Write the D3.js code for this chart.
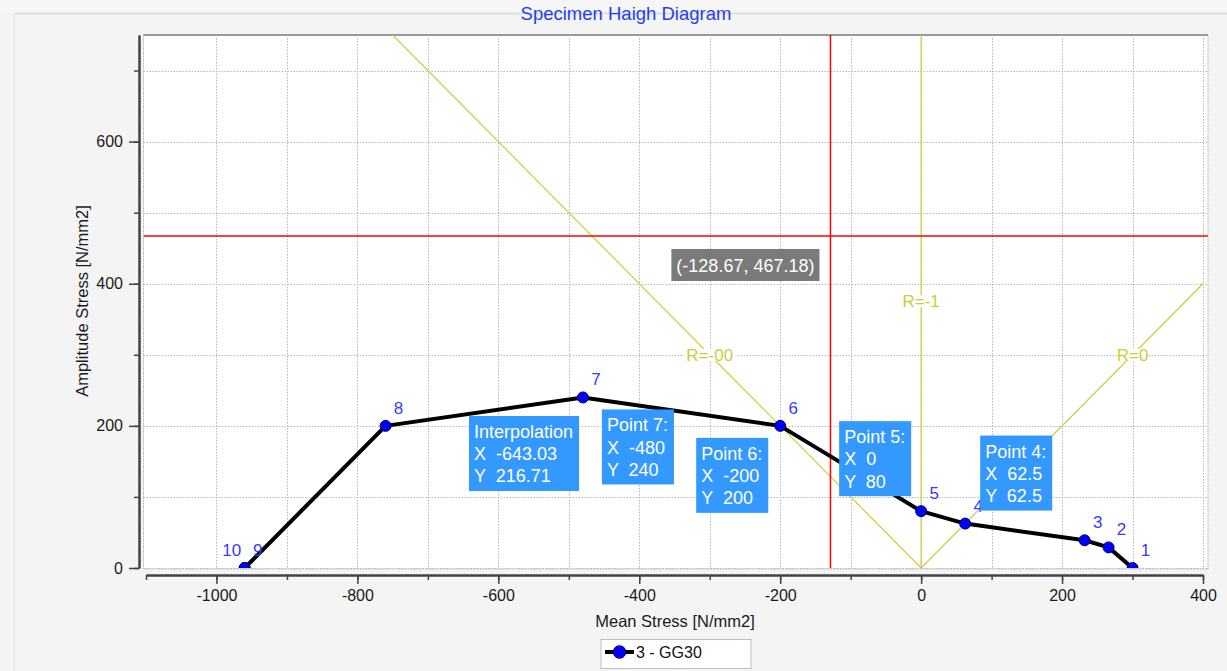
<!DOCTYPE html>
<html>
<head>
<meta charset="utf-8">
<script src="https://cdn.jsdelivr.net/npm/d3@7"></script>
<style>
    body { margin: 0; background: #f4f4f4; }
    text { font-family: "Liberation Sans", Arial, sans-serif; }
</style>
</head>
<body>
<div id="chart"></div>
<script>
// haigh diagram data
const pointIds = [1, 2, 3, 4, 5, 6, 7, 8, 9, 10];
const meanStress = [300, 266, 232, 62.5, 0, -200, -480, -760, -960, -960];
const ampStress = [0, 29, 39, 62.5, 80, 200, 240, 200, 0, 0];
const seriesName = "3 - GG30";

const xTickValues = [-1000, -800, -600, -400, -200, 0, 200, 400];
const yTickValues = [0, 200, 400, 600];

// stress ratio lines, all start at the origin
const rLabels = ["R=-1", "R=0", "R=-00"];
const rEndMean = [0, 400, -750];
const rEndAmp = [750, 400, 750];
const rLabelMean = [0, 300, -300];
const rLabelAmp = [375, 300, 300];

// point annotations
const noteTitles = ["Interpolation", "Point 7:", "Point 6:", "Point 5:", "Point 4:"];
const noteMean = [-643.03, -480, -200, 0, 62.5];
const noteAmp = [216.71, 240, 200, 80, 62.5];

const cursorMean = -128.67, cursorAmp = 467.18;

// layout
const W = 1227, H = 671;
const plot = { left: 146, right: 1203, top: 35, bottom: 568 };
const noteOffset = [[1, 2], [19, 12], [-84, 12], [-82, -90], [15, -88]];

const x = d3.scaleLinear().domain([-1100, 400]).range([plot.left, plot.right]);
const y = d3.scaleLinear().domain([0, 750]).range([plot.bottom, plot.top]);

const svg = d3.select("#chart").append("svg")
    .attr("width", W)
    .attr("height", H);

svg.append("rect").attr("width", W).attr("height", H).attr("fill", "#f4f4f4");
svg.append("rect").attr("width", W).attr("height", 13).attr("fill", "#f6f6f6");
svg.append("line").attr("x1", 14).attr("x2", W).attr("y1", 13.5).attr("y2", 13.5)
    .attr("stroke", "#dedede").attr("stroke-width", 2);
svg.append("line").attr("x1", 14.5).attr("x2", 14.5).attr("y1", 13).attr("y2", H)
    .attr("stroke", "#e4e4e4");

svg.append("text")
    .attr("x", 626).attr("y", 20)
    .attr("text-anchor", "middle")
    .style("font-size", "18.5px")
    .attr("fill", "#1f3ef0")
    .text("Specimen Haigh Diagram");

// plot area
svg.append("rect")
    .attr("x", 143.5).attr("y", plot.top)
    .attr("width", 1208 - 143.5).attr("height", plot.bottom - plot.top + 1)
    .attr("fill", "#fff")
    .attr("stroke", "#b4b4b4")
    .attr("stroke-dasharray", "1.5,1");
svg.append("line")
    .attr("x1", 143.5).attr("x2", 1208).attr("y1", plot.top).attr("y2", plot.top)
    .attr("stroke", "#999").attr("stroke-width", 2);

const grid = svg.append("g")
    .attr("stroke", "#b8b8b8")
    .attr("stroke-dasharray", "1.5,1.5");
grid.selectAll(".gx")
    .data(d3.range(-1000, 401, 100))
    .enter().append("line")
    .attr("x1", d => Math.round(x(d)) + 0.5).attr("x2", d => Math.round(x(d)) + 0.5)
    .attr("y1", plot.top).attr("y2", plot.bottom);
grid.selectAll(".gy")
    .data(d3.range(0, 701, 100))
    .enter().append("line")
    .attr("x1", 143.5).attr("x2", 1208)
    .attr("y1", d => Math.round(y(d)) + 0.5).attr("y2", d => Math.round(y(d)) + 0.5);

// axes
const xAxisY = 575;
function styleAxis(g, sw) {
    g.select(".domain").attr("stroke", "#444").attr("stroke-width", 2);
    g.selectAll(".tick line").attr("stroke", "#444").attr("stroke-width", sw);
    g.selectAll(".tick text")
        .attr("fill", "#1a1a1a")
        .style("font-size", "16px")
        .style("font-family", "'Liberation Sans', Arial, sans-serif");
}

svg.append("g")
    .attr("transform", `translate(0,${xAxisY})`)
    .call(d3.axisBottom(x).tickValues(d3.range(-1100, 401, 100)).tickSize(5).tickSizeOuter(0).tickFormat(""))
    .call(g => styleAxis(g, 1.5));
svg.append("g")
    .attr("transform", `translate(0,${xAxisY})`)
    .call(d3.axisBottom(x).tickValues(xTickValues).tickSize(9).tickSizeOuter(0).tickPadding(6)
        .tickFormat(d => String(d)))
    .call(g => styleAxis(g, 1.5));

const yAxisX = 139;
svg.append("g")
    .attr("transform", `translate(${yAxisX},0)`)
    .call(d3.axisLeft(y).tickValues(d3.range(0, 701, 100)).tickSize(5).tickSizeOuter(0).tickFormat(""))
    .call(g => styleAxis(g, 1.5));
svg.append("g")
    .attr("transform", `translate(${yAxisX},0)`)
    .call(d3.axisLeft(y).tickValues(yTickValues).tickSize(10).tickSizeOuter(0).tickPadding(6)
        .tickFormat(d => String(d)))
    .call(g => styleAxis(g, 1.5));

svg.append("text")
    .attr("x", 675).attr("y", 627)
    .attr("text-anchor", "middle")
    .style("font-size", "16.5px")
    .attr("fill", "#1a1a1a")
    .text("Mean Stress [N/mm2]");

svg.append("text")
    .attr("transform", "translate(88,301) rotate(-90)")
    .attr("text-anchor", "middle")
    .style("font-size", "16.5px")
    .attr("fill", "#1a1a1a")
    .text("Amplitude Stress [N/mm2]");

// clipped content
svg.append("clipPath").attr("id", "clip")
    .append("rect")
    .attr("x", 143.5).attr("y", plot.top)
    .attr("width", 1208 - 143.5).attr("height", plot.bottom - plot.top);

const body = svg.append("g").attr("clip-path", "url(#clip)");

const rColor = "#c8cf3a";
body.selectAll(".rline")
    .data(rLabels)
    .enter().append("line")
    .attr("x1", x(0)).attr("y1", y(0))
    .attr("x2", (d, i) => x(rEndMean[i]))
    .attr("y2", (d, i) => y(rEndAmp[i]))
    .attr("stroke", rColor)
    .attr("stroke-width", 1.2);

const rLab = body.selectAll(".rlab")
    .data(rLabels)
    .enter().append("g")
    .attr("transform", (d, i) => `translate(${x(rLabelMean[i])},${y(rLabelAmp[i])})`);
rLab.append("rect")
    .attr("x", d => -d.length * 5.2).attr("y", -6)
    .attr("width", d => d.length * 10.4).attr("height", 12)
    .attr("fill", "#fff");
rLab.append("text")
    .attr("text-anchor", "middle")
    .attr("dy", "0.35em")
    .style("font-size", "17px")
    .attr("fill", rColor)
    .text(d => d);

// cursor crosshair
body.append("line")
    .attr("x1", x(cursorMean)).attr("x2", x(cursorMean))
    .attr("y1", plot.top).attr("y2", plot.bottom)
    .attr("stroke", "#ff0000").attr("stroke-width", 1.5);
body.append("line")
    .attr("x1", 143.5).attr("x2", 1208)
    .attr("y1", y(cursorAmp)).attr("y2", y(cursorAmp))
    .attr("stroke", "#ff0000").attr("stroke-width", 1.5);

// series
const pts = pointIds.map((id, i) => ({ id, mx: meanStress[i], ay: ampStress[i] }));

body.append("path")
    .datum(pts)
    .attr("fill", "none")
    .attr("stroke", "#000")
    .attr("stroke-width", 4)
    .attr("stroke-linejoin", "round")
    .attr("d", d3.line().x(d => x(d.mx)).y(d => y(d.ay)));

body.selectAll(".pt")
    .data(pts)
    .enter().append("circle")
    .attr("cx", d => x(d.mx))
    .attr("cy", d => y(d.ay))
    .attr("r", 5.5)
    .attr("fill", "#0000ff")
    .attr("stroke", "#000066")
    .attr("stroke-width", 1);

// point numbers, shifted left when a point is repeated
svg.selectAll(".ptlab")
    .data(pts)
    .enter().append("text")
    .attr("x", (d, i) => {
        const dup = pts.slice(0, i).some(p => p.mx === d.mx && p.ay === d.ay);
        return x(d.mx) + (dup ? -13 : 13);
    })
    .attr("y", d => y(d.ay) - 12)
    .attr("text-anchor", "middle")
    .style("font-size", "17px")
    .attr("fill", "#3a3aff")
    .text(d => d.id);

// annotation boxes
const notes = svg.selectAll(".note")
    .data(noteTitles)
    .enter().append("g")
    .attr("transform", (d, i) =>
        `translate(${x(noteMean[i]) + noteOffset[i][0]},${y(noteAmp[i]) + noteOffset[i][1]})`);

notes.each(function (d, i) {
    const g = d3.select(this);
    const rect = g.append("rect").attr("fill", "#3399ff");
    const lines = [d, `X  ${noteMean[i]}`, `Y  ${noteAmp[i]}`];
    const t = g.append("text")
        .style("font-size", "18px")
        .style("white-space", "pre")
        .attr("fill", "#fff");
    lines.forEach((s, k) => {
        t.append("tspan").attr("x", 5).attr("y", 22 + k * 22.2).text(s);
    });
    const bb = t.node().getBBox();
    rect.attr("width", bb.width + 11).attr("height", 75);
});

// cursor readout
const tip = svg.append("g");
const tipText = tip.append("text")
    .style("font-size", "18px")
    .attr("fill", "#fff")
    .text(`(${cursorMean}, ${cursorAmp.toFixed(2)})`);
const tbb = tipText.node().getBBox();
const tipW = tbb.width + 10;
const tipX = x(cursorMean) - 11 - tipW, tipY = y(cursorAmp) + 13;
tip.insert("rect", "text")
    .attr("x", tipX).attr("y", tipY)
    .attr("width", tipW).attr("height", 32)
    .attr("fill", "#7a7a7a");
tipText.attr("x", tipX + 5).attr("y", tipY + 23);

// legend
const legend = svg.append("g").attr("transform", "translate(601,639.5)");
legend.append("rect")
    .attr("width", 150).attr("height", 29)
    .attr("fill", "#fff")
    .attr("stroke", "#bdbdbd");
legend.append("line")
    .attr("x1", 4).attr("x2", 33).attr("y1", 12.5).attr("y2", 12.5)
    .attr("stroke", "#000").attr("stroke-width", 4);
legend.append("circle")
    .attr("cx", 18.5).attr("cy", 12.5).attr("r", 6.3)
    .attr("fill", "#0000ff").attr("stroke", "#000066");
legend.append("text")
    .attr("x", 35).attr("y", 18.5)
    .style("font-size", "16px")
    .attr("fill", "#111")
    .text(seriesName);
</script>
</body>
</html>
